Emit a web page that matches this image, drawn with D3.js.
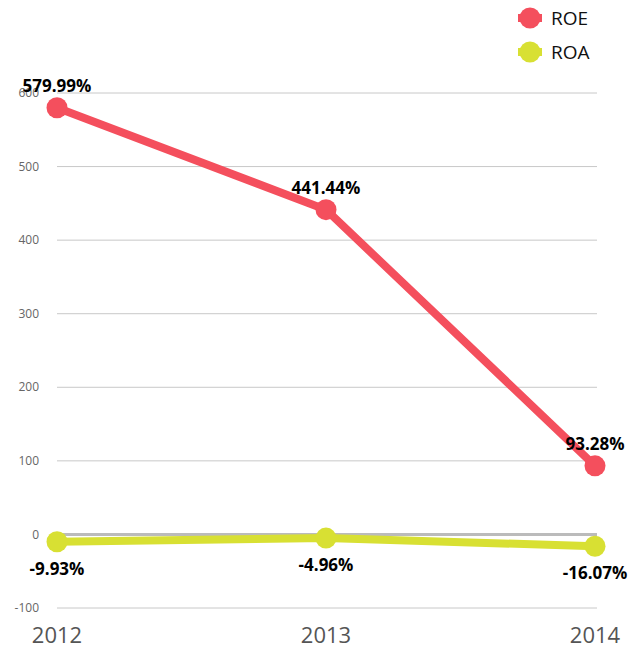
<!DOCTYPE html>
<meta charset="utf-8">
<style>
    body { margin: 0; background: #fff; }
    text { font-family: "Open Sans", "DejaVu Sans", sans-serif; }
    .tick text { fill: #666; font-size: 12px; }
    .year text { fill: #555; font-size: 22px; }
    .lbl { font-weight: bold; font-size: 17px; fill: #000; }
    .legend text { font-size: 19px; fill: #111; }
</style>
<body>
<svg id="chart" width="641" height="650"></svg>
<script src="https://d3js.org/d3.v7.min.js"></script>
<script>
    var years = ["2012", "2013", "2014"];
    var roe = [579.99, 441.44, 93.28];
    var roa = [-9.93, -4.96, -16.07];
    var yTicks = [-100, 0, 100, 200, 300, 400, 500, 600];

    var series = [
        { name: "ROE", values: roe, color: "#f44f5d", above: true },
        { name: "ROA", values: roa, color: "#d8e033", above: false }
    ];

    var svg = d3.select("#chart");

    var x = d3.scalePoint().domain(years).range([57, 595]);
    var y = d3.scaleLinear().domain([-100, 600]).range([608, 93]);

    // grid lines
    var grid = svg.append("g");
    grid.selectAll("line")
        .data(yTicks)
        .enter().append("line")
        .attr("x1", 57).attr("x2", 597)
        .attr("y1", function(d) { return y(d); })
        .attr("y2", function(d) { return y(d); })
        .attr("stroke", function(d) { return d === 0 ? "#bbb" : "#c8c8c8"; })
        .attr("stroke-width", function(d) { return d === 0 ? 3 : 1; });

    var tk = svg.append("g").attr("class", "tick");
    tk.selectAll("text")
        .data(yTicks)
        .enter().append("text")
        .attr("x", 39)
        .attr("y", function(d) { return y(d); })
        .attr("dy", "0.35em")
        .attr("text-anchor", "end")
        .text(function(d) { return d; });

    var yr = svg.append("g").attr("class", "year");
    yr.selectAll("text")
        .data(years)
        .enter().append("text")
        .attr("x", function(d) { return x(d); })
        .attr("y", 643)
        .attr("text-anchor", "middle")
        .text(function(d) { return d; });

    var line = d3.line()
        .x(function(d, i) { return x(years[i]); })
        .y(function(d) { return y(d); });

    series.forEach(function(s) {
        var g = svg.append("g");
        g.append("path")
            .attr("d", line(s.values))
            .attr("fill", "none")
            .attr("stroke", s.color)
            .attr("stroke-width", 8)
            .attr("stroke-linejoin", "round");
        g.selectAll("circle")
            .data(s.values)
            .enter().append("circle")
            .attr("cx", function(d, i) { return x(years[i]); })
            .attr("cy", function(d) { return y(d); })
            .attr("r", 10.5)
            .attr("fill", s.color);
        g.selectAll("text")
            .data(s.values)
            .enter().append("text")
            .attr("class", "lbl")
            .attr("x", function(d, i) { return x(years[i]); })
            .attr("y", function(d) { return y(d) + (s.above ? -16 : 33); })
            .attr("text-anchor", "middle")
            .text(function(d) { return d.toFixed(2) + "%"; });
    });

    // legend
    var legend = svg.append("g").attr("class", "legend");
    var items = legend.selectAll("g")
        .data(series)
        .enter().append("g")
        .attr("transform", function(d, i) { return "translate(530," + (18 + i * 34) + ")"; });
    items.append("line")
        .attr("x1", -12).attr("x2", 12)
        .attr("stroke", function(d) { return d.color; })
        .attr("stroke-width", 8);
    items.append("circle")
        .attr("r", 10.5)
        .attr("fill", function(d) { return d.color; });
    items.append("text")
        .attr("x", 21)
        .attr("dy", "0.35em")
        .text(function(d) { return d.name; });
</script>
</body>
